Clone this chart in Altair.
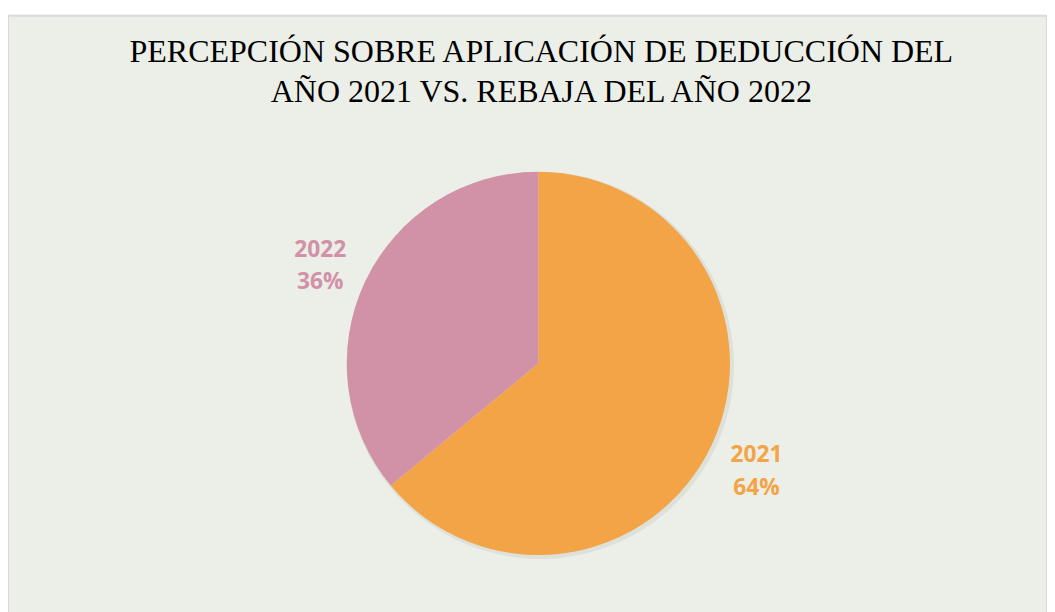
import altair as alt
import pandas as pd

years = ["2021", "2022"]
values = [64, 36]
colors = ["#F2A446", "#D192A7"]
title_lines = ["PERCEPCIÓN SOBRE APLICACIÓN DE DEDUCCIÓN DEL", "AÑO 2021 VS. REBAJA DEL AÑO 2022"]

df = pd.DataFrame({"year": years, "value": values, "order": [0, 1]})
tdf = pd.DataFrame({"line": title_lines, "idx": [0, 1]})

CX, CY, R = 537, 352, 194

base = alt.Chart(df)
color = alt.Color("year:N", scale=alt.Scale(domain=years, range=colors), legend=None)

shadow = base.mark_arc(radius=R + 2, color="#000000", opacity=0.06).encode(
    theta=alt.Theta("value:Q", stack=True),
    order=alt.Order("order:Q"),
    x=alt.value(CX + 2), y=alt.value(CY + 2),
)

pie = base.mark_arc(radius=R, stroke=None).encode(
    theta=alt.Theta("value:Q", stack=True),
    color=color,
    order=alt.Order("order:Q"),
    x=alt.value(CX), y=alt.value(CY),
)

labels = base.transform_calculate(
    lab="datum.year + '\\n' + datum.value + '%'"
).mark_text(
    radius=244, font="Open Sans", fontWeight="bold", fontSize=23, dy=-11,
    lineBreak="\n", lineHeight=33, align="center", baseline="middle",
).encode(
    theta=alt.Theta("value:Q", stack=True),
    order=alt.Order("order:Q"),
    color=color,
    text="lab:N",
    x=alt.value(CX), y=alt.value(CY),
)

title = alt.Chart(tdf).mark_text(
    font="Liberation Serif", fontSize=32.4, color="#000000", align="center", baseline="middle"
).encode(
    text="line:N",
    x=alt.value(540),
    y=alt.Y("idx:Q", scale=alt.Scale(domain=[0, 1], range=[37, 77]), axis=None),
)

chart = alt.layer(shadow, pie, labels, title).properties(
    width=1052, height=606,
    autosize=alt.AutoSizeParams(type="none"),
    padding={"top": 4, "left": 0, "right": 0, "bottom": 0},
    background="#FFFFFF",
).configure_view(fill="#ECEEE8", stroke="#D9D9D9", strokeWidth=2)

chart.save("out.html", embed_options={"renderer": "svg", "actions": False})
